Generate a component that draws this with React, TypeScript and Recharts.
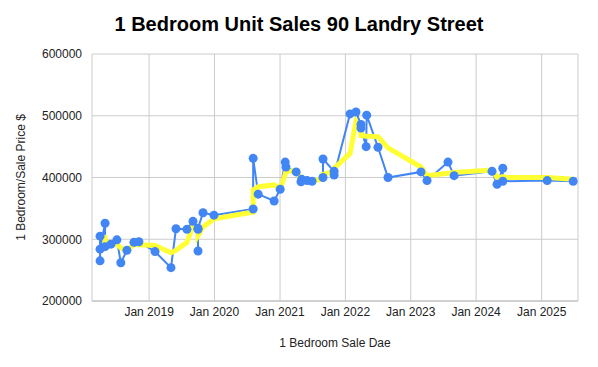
import { LineChart, Line, XAxis, YAxis, CartesianGrid, Label } from 'recharts';

const saleDates = [
  '2018-04-02', '2018-04-02', '2018-04-02', '2018-04-30', '2018-04-30', '2018-06-02',
  '2018-07-05', '2018-07-27', '2018-08-30', '2018-10-08', '2018-11-05', '2019-02-03',
  '2019-05-03', '2019-05-31', '2019-07-31', '2019-09-03', '2019-10-01', '2019-10-01',
  '2019-10-01', '2019-10-29', '2019-12-29', '2020-08-04', '2020-08-04', '2020-09-01',
  '2020-11-29', '2021-01-02', '2021-01-30', '2021-02-03', '2021-04-01', '2021-04-28',
  '2021-05-02', '2021-06-01', '2021-06-29', '2021-08-29', '2021-08-29', '2021-10-30',
  '2021-10-30', '2022-01-27', '2022-03-01', '2022-03-29', '2022-03-29', '2022-04-27',
  '2022-04-30', '2022-07-02', '2022-08-27', '2023-02-27', '2023-04-02', '2023-07-28',
  '2023-08-31', '2024-03-30', '2024-04-27', '2024-05-29', '2024-05-29', '2025-02-01',
  '2025-06-26',
];

const salePrices = [
  265000, 305000, 284000, 326000, 288000, 292000,
  299000, 262000, 282000, 295000, 296000, 280000,
  254000, 317000, 316000, 329000, 316000, 281000,
  318000, 343000, 339000, 349000, 431000, 373000,
  362000, 381000, 425000, 417000, 409000, 393000,
  397000, 395000, 394000, 400000, 430000, 410000,
  404000, 503000, 506000, 486000, 480000, 450000,
  501000, 449000, 400000, 409000, 395000, 425000,
  403000, 410000, 389000, 415000, 394000, 395000,
  394000,
];

const avgPrices = [
  null, null, 305000, 303000, 296000, 293000,
  292000, 286000, 281000, 292000, 291000, 290000,
  278000, 282000, 295000, 322000, 316000, 306000,
  306000, 320000, 333000, 344000, 380000, 385000,
  388000, 382000, 405000, 410000, 411000, 398000,
  396000, 394000, 393000, 399000, 405000, 410000,
  415000, 439000, 490000, 475000, 468000, 467000,
  467000, 466000, 448000, 417000, 403000, 407000,
  408000, 412000, 400000, 401000, 400000, 400000,
  397000,
];

const tickYears = [2019, 2020, 2021, 2022, 2023, 2024, 2025];
const priceTicks = [200000, 300000, 400000, 500000, 600000];

const rows = saleDates.map((d, i) => ({
  t: Date.parse(d),
  price: salePrices[i],
  avg: avgPrices[i],
}));

const yearTicks = tickYears.map((y) => Date.parse(`${y}-01-01`));
const xDomain = [Date.parse('2018-02-16'), Date.parse('2025-07-23')];

const font = '"Liberation Sans", Arial, sans-serif';
const blue = '#4285f4';

export default function App() {
  return (
    <div style={{ position: 'absolute', left: 0, top: 0, fontFamily: font }}>
      <div
        style={{
          position: 'absolute',
          left: 0,
          top: 13,
          width: 598,
          textAlign: 'center',
          fontSize: 20,
          fontWeight: 'bold',
          color: '#000',
        }}
      >
        1 Bedroom Unit Sales 90 Landry Street
      </div>
      <LineChart
        width={598}
        height={367}
        data={rows}
        margin={{ top: 54, right: 20, bottom: 36, left: 0 }}
      >
        <CartesianGrid stroke="#cccccc" vertical={true} />
        <XAxis
          dataKey="t"
          type="number"
          domain={xDomain}
          ticks={yearTicks}
          allowDataOverflow
          tickFormatter={(v: number) => `Jan ${new Date(v).getUTCFullYear()}`}
          tick={{ fill: '#222', fontSize: 12, fontFamily: font }}
          tickLine={false}
          axisLine={{ stroke: '#bbbbbb' }}
          tickMargin={0}
        >
          <Label
            value="1 Bedroom Sale Dae"
            position="insideBottom"
            offset={-16}
            style={{ fill: '#222', fontSize: 12, fontFamily: font }}
          />
        </XAxis>
        <YAxis
          type="number"
          domain={[200000, 600000]}
          ticks={priceTicks}
          width={92}
          tick={{ fill: '#222', fontSize: 12, fontFamily: font }}
          tickLine={false}
          axisLine={false}
          tickMargin={4}
        >
          <Label
            value="1 Bedroom/Sale Price $"
            angle={-90}
            position="insideLeft"
            offset={21}
            style={{ fill: '#222', fontSize: 12, fontFamily: font, textAnchor: 'middle' }}
          />
        </YAxis>
        <Line
          dataKey="price"
          stroke={blue}
          strokeWidth={2}
          dot={false}
          activeDot={false}
          isAnimationActive={false}
        />
        <Line
          dataKey="avg"
          stroke="#ffff33"
          strokeWidth={5}
          dot={false}
          activeDot={false}
          isAnimationActive={false}
        />
        <Line
          dataKey="price"
          stroke="none"
          dot={{ r: 4.5, fill: blue, stroke: blue, strokeWidth: 0 }}
          activeDot={false}
          isAnimationActive={false}
        />
      </LineChart>
    </div>
  );
}
